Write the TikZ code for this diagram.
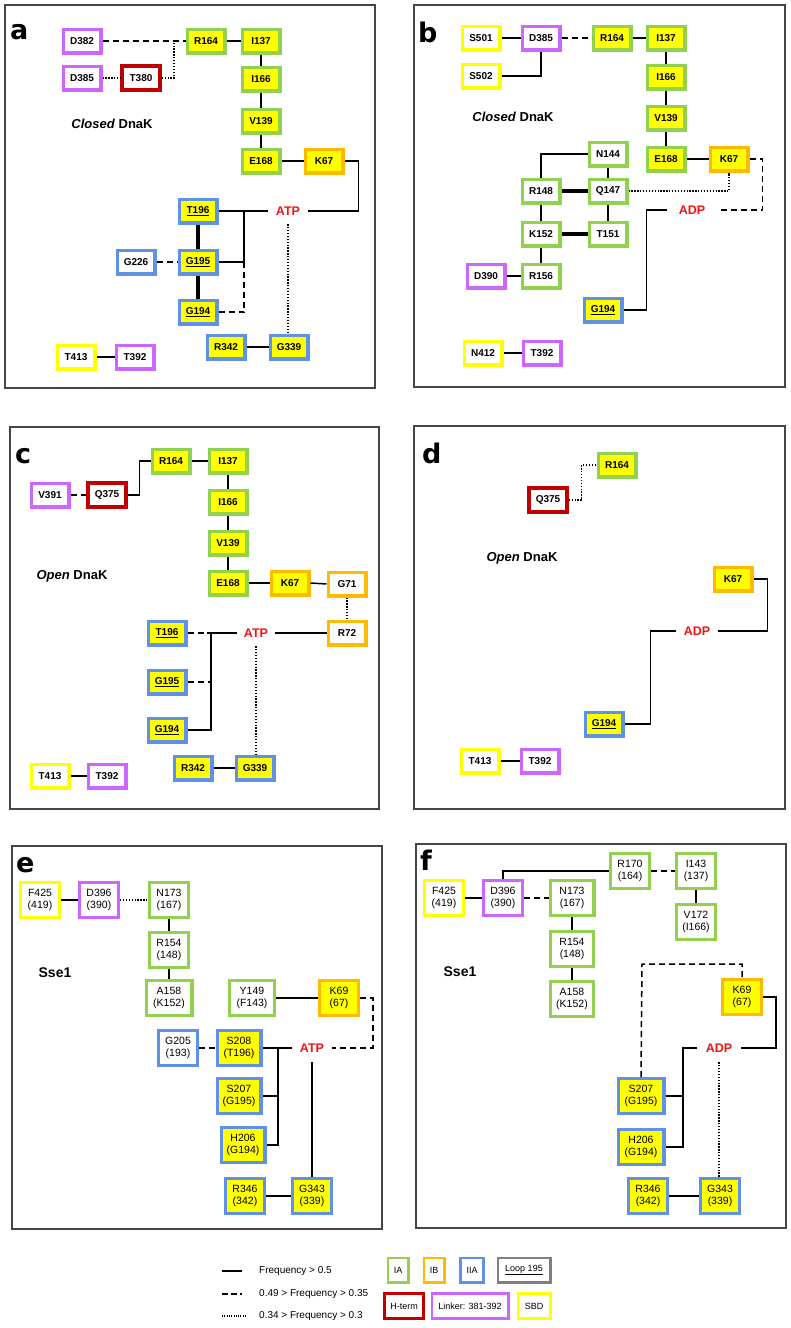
\documentclass[tikz,border=0pt]{standalone}
\usepackage{fontspec}
\setmainfont{Liberation Sans}
\newfontfamily\letterfont{DejaVu Sans}
\definecolor{cgreen}{RGB}{146,208,80}
\definecolor{corange}{RGB}{255,185,0}
\definecolor{cblue}{RGB}{95,145,230}
\definecolor{cpurple}{RGB}{204,102,255}
\definecolor{cdred}{RGB}{192,0,0}
\definecolor{cyel}{RGB}{255,255,0}
\definecolor{cgray}{RGB}{128,128,128}
\definecolor{cframe}{RGB}{70,70,70}
\definecolor{catp}{RGB}{240,20,20}
\tikzset{
  bx/.style={draw, line width=3.2pt, minimum width=37.8pt, minimum height=23.8pt, inner sep=0pt, fill=white, font=\bfseries\fontsize{10}{11}\selectfont},
  bxt/.style={draw, line width=3.2pt, minimum width=38.8pt, minimum height=34.8pt, inner sep=0pt, fill=white, align=center, font=\fontsize{10.5}{11.5}\selectfont},
  lgb/.style={draw, line width=2.6pt, minimum height=24.4pt, inner sep=0pt, fill=white, font=\fontsize{9}{10}\selectfont},
  gy/.style={draw=cgreen, fill=cyel}, gw/.style={draw=cgreen},
  oy/.style={draw=corange, fill=cyel}, ow/.style={draw=corange},
  by/.style={draw=cblue, fill=cyel}, bw/.style={draw=cblue},
  pu/.style={draw=cpurple}, rw/.style={draw=cdred}, yw/.style={draw=cyel},
  gr/.style={draw=cgray},
  atp/.style={text=catp, inner sep=0pt, minimum width=40pt, minimum height=26pt, font=\bfseries\fontsize{12.5}{13}\selectfont},
  ttl/.style={inner sep=0pt, font=\bfseries\fontsize{13}{15}\selectfont},
  plab/.style={inner sep=0pt, anchor=base west, font=\letterfont\bfseries\fontsize{27}{30}\selectfont},
  frm/.style={draw=cframe, line width=1.4pt},
  sol/.style={line width=1.5pt},
  mid/.style={line width=2.6pt},
  thk/.style={line width=4pt},
  dsh/.style={line width=1.5pt, dash pattern=on 6pt off 4pt},
  dot/.style={line width=1.3pt, dash pattern=on 1.3pt off 1.6pt},
  lgt/.style={anchor=west, inner sep=0pt, font=\fontsize{10}{11}\selectfont}
}
\begin{document}
\begin{tikzpicture}[x=1pt,y=-1pt]
\useasboundingbox[fill=white] (0,0) rectangle (791,1328);
% frames
\draw[frm] (5,5) rectangle (375,388);
\draw[frm] (414,5) rectangle (785,387);
\draw[frm] (10,427) rectangle (379,809);
\draw[frm] (414,426) rectangle (785,809);
\draw[frm] (12,846) rectangle (382,1229);
\draw[frm] (416,844) rectangle (786,1228);
\node[plab] (la) at (10,39) {a};
\node[plab] (lb) at (418,42) {b};
\node[plab] (lc) at (15,463) {c};
\node[plab] (ld) at (422,463) {d};
\node[plab] (le) at (16,872) {e};
\node[plab] (lf) at (420,870) {f};

% ---------------- panel a
\node[bx,pu] (aD382) at (82,41) {D382};
\node[bx,gy] (aR164) at (206,41) {R164};
\node[bx,gy] (aI137) at (261,41) {I137};
\node[bx,pu] (aD385) at (82,78) {D385};
\node[bx,rw,line width=3.6pt] (aT380) at (141,78) {T380};
\node[bx,gy] (aI166) at (261,79) {I166};
\node[bx,gy] (aV139) at (261,121) {V139};
\node[bx,gy] (aE168) at (261,161) {E168};
\node[bx,oy] (aK67) at (324,161) {K67};
\node[ttl] (aTitle) at (112,124) {\textit{Closed} DnaK};
\node[bx,by] (aT196) at (198,211) {\underline{T196}};
\node[atp] (aATP) at (288,211) {ATP};
\node[bx,bw] (aG226) at (136,262) {G226};
\node[bx,by] (aG195) at (198,262) {\underline{G195}};
\node[bx,by] (aG194) at (198,312) {\underline{G194}};
\node[bx,by] (aR342) at (226,347) {R342};
\node[bx,by] (aG339) at (289,347) {G339};
\node[bx,yw] (aT413) at (76,357) {T413};
\node[bx,pu] (aT392) at (135,357) {T392};
\coordinate (aj1) at (174,41);
\coordinate (aj2) at (244,211);
\coordinate (aj3) at (244,262);
\draw[dsh] (aD382) -- (aR164);
\draw[dot] (aD385) -- (aT380);
\draw[dot] (aT380.east) -| (aj1);
\draw[sol] (aR164) -- (aI137);
\draw[sol] (aI137) -- (aI166);
\draw[sol] (aI166) -- (aV139);
\draw[sol] (aV139) -- (aE168);
\draw[sol] (aE168) -- (aK67);
\draw[sol] (aK67.east) -- ++(14,0) |- (aATP.east);
\draw[sol] (aT196.east) -- (aATP.west);
\draw[sol] (aj2) -- (aj3) -- (aG195.east);
\draw[dsh] (aG194.east) -| (aj3);
\draw[thk] (aT196) -- (aG195);
\draw[thk] (aG195) -- (aG194);
\draw[dsh] (aG226) -- (aG195);
\draw[dot] (aATP.south) -- (aATP.south |- aG339.north);
\draw[sol] (aR342) -- (aG339);
\draw[sol] (aT413) -- (aT392);

% ---------------- panel b
\node[bx,yw] (bS501) at (481,38) {S501};
\node[bx,pu] (bD385) at (541,38) {D385};
\node[bx,gy] (bR164) at (612,38) {R164};
\node[bx,gy] (bI137) at (666,38) {I137};
\node[bx,yw] (bS502) at (481,76) {S502};
\node[bx,gy] (bI166) at (666,77) {I166};
\node[bx,gy] (bV139) at (666,118) {V139};
\node[bx,gy] (bE168) at (666,159) {E168};
\node[bx,oy] (bK67) at (729,159) {K67};
\node[ttl] (bTitle) at (513,117) {\textit{Closed} DnaK};
\node[bx,gw] (bN144) at (608,154) {N144};
\node[bx,gw] (bR148) at (541,191) {R148};
\node[bx,gw] (bQ147) at (608,191) {Q147};
\node[bx,gw] (bK152) at (541,234) {K152};
\node[bx,gw] (bT151) at (608,234) {T151};
\node[bx,gw] (bR156) at (541,276) {R156};
\node[bx,pu] (bD390) at (486,276) {D390};
\node[bx,by] (bG194) at (603,310) {\underline{G194}};
\node[bx,yw] (bN412) at (483,353) {N412};
\node[bx,pu] (bT392) at (542,353) {T392};
\node[atp,minimum width=49pt] (bADP) at (692,210) {ADP};
\draw[sol] (bS501) -- (bD385);
\draw[dsh] (bD385) -- (bR164);
\draw[sol] (bR164) -- (bI137);
\draw[sol] (bI137) -- (bI166);
\draw[sol] (bI166) -- (bV139);
\draw[sol] (bV139) -- (bE168);
\draw[sol] (bE168) -- (bK67);
\draw[sol] (bD385.south) |- (bS502.east);
\draw[sol] (bN144.west) -| (bR148.north);
\draw[sol] (bN144) -- (bQ147);
\draw[sol] (bQ147) -- (bT151);
\draw[sol] (bR148) -- (bK152);
\draw[sol] (bK152) -- (bR156);
\draw[sol] (bD390) -- (bR156);
\draw[thk] (bR148) -- (bQ147);
\draw[thk] (bK152) -- (bT151);
\draw[dot] (bQ147.east) -| (bK67.south);
\draw[dsh] (bK67.east) -- ++(13,0) |- (bADP.east);
\draw[sol] (bADP.west) -- ++(-21,0) |- (bG194.east);
\draw[sol] (bN412) -- (bT392);

% ---------------- panel c
\node[bx,gy] (cR164) at (171,461) {R164};
\node[bx,gy] (cI137) at (228,461) {I137};
\node[bx,pu] (cV391) at (50,495) {V391};
\node[bx,rw,line width=3.6pt] (cQ375) at (107,495) {Q375};
\node[bx,gy] (cI166) at (228,502) {I166};
\node[bx,gy] (cV139) at (228,543) {V139};
\node[bx,gy] (cE168) at (228,583) {E168};
\node[bx,oy] (cK67) at (290,583) {K67};
\node[bx,ow] (cG71) at (347,584) {G71};
\node[bx,ow] (cR72) at (347,633) {R72};
\node[ttl] (cTitle) at (72,576) {\textit{Open} DnaK};
\node[bx,by] (cT196) at (167,633) {\underline{T196}};
\node[atp,minimum width=38pt] (cATP) at (256,633) {ATP};
\node[bx,by] (cG195) at (167,682) {\underline{G195}};
\node[bx,by] (cG194) at (167,730) {\underline{G194}};
\node[bx,by] (cR342) at (193,768) {R342};
\node[bx,by] (cG339) at (255,768) {G339};
\node[bx,yw] (cT413) at (50,776) {T413};
\node[bx,pu] (cT392) at (107,776) {T392};
\coordinate (cj1) at (207,633);
\coordinate (cj2) at (211,633);
\coordinate (cj3) at (211,682);
\draw[dsh] (cV391) -- (cQ375);
\draw[sol] (cQ375.east) -- ++(12,0) |- (cR164.west);
\draw[sol] (cR164) -- (cI137);
\draw[sol] (cI137) -- (cI166);
\draw[sol] (cI166) -- (cV139);
\draw[sol] (cV139) -- (cE168);
\draw[sol] (cE168) -- (cK67);
\draw[sol] (cK67.east) -- (cG71.west);
\draw[dot] (cG71) -- (cR72);
\draw[sol] (cR72.west) -- (cATP.east);
\draw[dsh] (cT196.east) -- (cj1);
\draw[sol] (cj1) -- (cATP.west);
\draw[sol] (cj2) |- (cG194.east);
\draw[dsh] (cG195.east) -- (cj3);
\draw[dot] (cATP.south) -- (cATP.south |- cG339.north);
\draw[sol] (cR342) -- (cG339);
\draw[sol] (cT413) -- (cT392);

% ---------------- panel d
\node[bx,gy] (dR164) at (617,465) {R164};
\node[bx,rw,line width=3.6pt] (dQ375) at (548,500) {Q375};
\node[ttl] (dTitle) at (522,558) {\textit{Open} DnaK};
\node[bx,oy] (dK67) at (733,579) {K67};
\node[atp,minimum width=41pt] (dADP) at (697,631) {ADP};
\node[bx,by] (dG194) at (604,724) {\underline{G194}};
\node[bx,yw] (dT413) at (480,761) {T413};
\node[bx,pu] (dT392) at (540,761) {T392};
\draw[dot] (dQ375.east) -- ++(13,0) |- (dR164.west);
\draw[sol] (dK67.east) -- ++(14,0) |- (dADP.east);
\draw[sol] (dADP.west) -- ++(-26,0) |- (dG194.east);
\draw[sol] (dT413) -- (dT392);

% ---------------- panel e
\node[bxt,yw] (eF425) at (40,900) {F425\\(419)};
\node[bxt,pu] (eD396) at (99,900) {D396\\(390)};
\node[bxt,gw] (eN173) at (169,900) {N173\\(167)};
\node[bxt,gw] (eR154) at (169,950) {R154\\(148)};
\node[bxt,gw,minimum width=45.8pt] (eA158) at (169,998) {A158\\(K152)};
\node[ttl,font=\bfseries\fontsize{14}{16}\selectfont] (eTitle) at (55,973) {Sse1};
\node[bxt,gw,minimum width=44.8pt] (eY149) at (252,998) {Y149\\(F143)};
\node[bxt,oy] (eK69) at (339,998) {K69\\(67)};
\node[bxt,bw] (eG205) at (178,1048) {G205\\(193)};
\node[bxt,by,minimum width=43.8pt] (eS208) at (239,1048) {S208\\(T196)};
\node[atp,minimum width=39pt,minimum height=28pt] (eATP) at (312,1048) {ATP};
\node[bxt,by,minimum width=43.8pt] (eS207) at (239,1096) {S207\\(G195)};
\node[bxt,by,minimum width=43.8pt] (eH206) at (243,1145) {H206\\(G194)};
\node[bxt,by] (eR346) at (245,1196) {R346\\(342)};
\node[bxt,by] (eG343) at (312,1196) {G343\\(339)};
\coordinate (ej1) at (278,1048);
\coordinate (ej2) at (278,1096);
\draw[sol] (eF425) -- (eD396);
\draw[dot] (eD396) -- (eN173);
\draw[sol] (eN173) -- (eR154);
\draw[sol] (eR154) -- (eA158);
\draw[sol] (eY149) -- (eK69);
\draw[dsh] (eK69.east) -- ++(13,0) |- (eATP.east);
\draw[dsh] (eG205) -- (eS208);
\draw[sol] (eS208.east) -- (eATP.west);
\draw[mid] (ej1) |- (eH206.east);
\draw[sol] (eS207.east) -- (ej2);
\draw[sol] (eATP.south) -- (eATP.south |- eG343.north);
\draw[sol] (eR346) -- (eG343);

% ---------------- panel f
\node[bxt,yw] (fF425) at (444,898) {F425\\(419)};
\node[bxt,pu] (fD396) at (503,898) {D396\\(390)};
\node[bxt,gw,minimum width=43.8pt] (fN173) at (572,898) {N173\\(167)};
\node[bxt,gw] (fR170) at (630,871) {R170\\(164)};
\node[bxt,gw] (fI143) at (696,871) {I143\\(137)};
\node[bxt,gw] (fV172) at (696,922) {V172\\(I166)};
\node[bxt,gw,minimum width=42.8pt] (fR154) at (572,949) {R154\\(148)};
\node[bxt,gw,minimum width=42.8pt] (fA158) at (572,999) {A158\\(K152)};
\node[ttl,font=\bfseries\fontsize{14}{16}\selectfont] (fTitle) at (460,972) {Sse1};
\node[bxt,oy] (fK69) at (742,997) {K69\\(67)};
\node[atp,minimum width=43pt,minimum height=28pt] (fADP) at (719,1048) {ADP};
\node[bxt,by,minimum width=45.8pt] (fS207) at (641,1096) {S207\\(G195)};
\node[bxt,by,minimum width=45.8pt] (fH206) at (641,1147) {H206\\(G194)};
\node[bxt,by] (fR346) at (648,1196) {R346\\(342)};
\node[bxt,by] (fG343) at (720,1196) {G343\\(339)};
\coordinate (fj1) at (683,1048);
\coordinate (fj2) at (683,1096);
\coordinate (fj3) at (642,964);
\draw[sol] (fF425) -- (fD396);
\draw[dsh] (fD396) -- (fN173);
\draw[sol] (fN173) -- (fR154);
\draw[sol] (fR154) -- (fA158);
\draw[sol] (fD396.north) |- (fR170.west);
\draw[dsh] (fR170) -- (fI143);
\draw[sol] (fI143) -- (fV172);
\draw[dsh] (fS207.north) -- (fj3) -| (fK69.north);
\draw[sol] (fK69.east) -- ++(13,0) |- (fADP.east);
\draw[sol] (fADP.west) -- (fj1) |- (fH206.east);
\draw[sol] (fS207.east) -- (fj2);
\draw[dot] (fADP.south) -- (fADP.south |- fG343.north);
\draw[sol] (fR346) -- (fG343);

% ---------------- legend
\coordinate (l1a) at (222,1271); \coordinate (l1b) at (242,1271);
\coordinate (l2a) at (222,1294); \coordinate (l2b) at (243,1294);
\coordinate (l3a) at (222,1316); \coordinate (l3b) at (246,1316);
\draw[sol] (l1a) -- (l1b);
\draw[line width=1.5pt, dash pattern=on 6pt off 3pt on 6pt off 3pt on 2pt off 4pt] (l2a) -- (l2b);
\draw[line width=1.1pt, dash pattern=on 1pt off 1.3pt] (l3a) -- (l3b);
\node[lgt] (t1) at (259,1271) {Frequency > 0.5};
\node[lgt] (t2) at (259,1294) {0.49 > Frequency > 0.35};
\node[lgt] (t3) at (259,1316) {0.34 > Frequency > 0.3};
\node[lgb,gw,minimum width=20.4pt] (lIA) at (398,1270) {IA};
\node[lgb,ow,minimum width=20.4pt] (lIB) at (434,1270) {IB};
\node[lgb,bw,minimum width=23.4pt] (lIIA) at (472,1270) {IIA};
\node[lgb,gr,minimum width=52.4pt] (lLoop) at (524,1270) {\underline{Loop 195}};
\node[lgb,rw,minimum width=39.4pt,minimum height=25.4pt] (lH) at (404,1306) {H-term};
\node[lgb,pu,minimum width=76.4pt,minimum height=25.4pt] (lL) at (470,1306) {Linker: 381-392};
\node[lgb,yw,minimum width=32.4pt,minimum height=25.4pt] (lS) at (534,1306) {SBD};
\end{tikzpicture}
\end{document}
